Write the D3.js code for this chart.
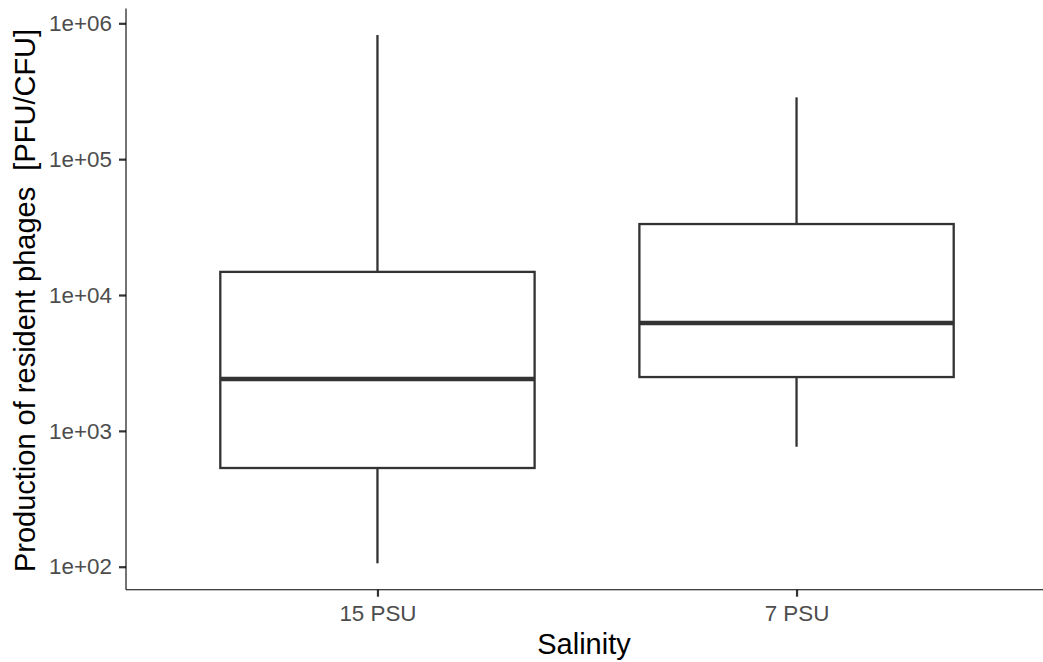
<!DOCTYPE html>
<html>
<head>
<meta charset="utf-8">
<script src="https://cdn.jsdelivr.net/npm/d3@7"></script>
<style>
  html, body { margin: 0; padding: 0; background: #fff; }
  svg { display: block; }
</style>
</head>
<body>
<svg id="chart" width="1043" height="662"></svg>
<script>
// Salinity groups and their box-plot summaries (PFU/CFU)
const categories = ["15 PSU", "7 PSU"];
const whiskerLow = [106, 764];
const lowerQuartile = [533, 2490];
const medianValue = [2410, 6220];
const upperQuartile = [14800, 33300];
const whiskerHigh = [820000, 285000];
const yTickValues = [1e2, 1e3, 1e4, 1e5, 1e6];

const W = 1043, H = 662;
const panel = { left: 126, right: 1048, top: 8.6, bottom: 589.7 };
const font = "'Liberation Sans', Arial, Helvetica, sans-serif";

const svg = d3.select("#chart");

// log scale with 5% padding around the data extent (in log space)
const logLo = Math.log10(d3.min(whiskerLow));
const logHi = Math.log10(d3.max(whiskerHigh));
const pad = (logHi - logLo) * 0.05;
const y = d3.scaleLog()
  .domain([Math.pow(10, logLo - pad), Math.pow(10, logHi + pad)])
  .range([panel.bottom, panel.top]);

const x = d3.scalePoint()
  .domain(categories)
  .range([panel.left, panel.right])
  .padding(0.6);
const boxWidth = x.step() * 0.75;

const rows = categories.map((c, i) => ({
  cat: c,
  lo: whiskerLow[i], q1: lowerQuartile[i], med: medianValue[i],
  q3: upperQuartile[i], hi: whiskerHigh[i]
}));

const boxes = svg.append("g").attr("class", "boxes");
const boxColor = "#333333";

rows.forEach(r => {
  const cx = x(r.cat);
  // whiskers
  boxes.append("line")
    .attr("x1", cx).attr("x2", cx)
    .attr("y1", y(r.q3)).attr("y2", y(r.hi))
    .attr("stroke", boxColor).attr("stroke-width", 2.3);
  boxes.append("line")
    .attr("x1", cx).attr("x2", cx)
    .attr("y1", y(r.q1)).attr("y2", y(r.lo))
    .attr("stroke", boxColor).attr("stroke-width", 2.3);
  // box
  boxes.append("rect")
    .attr("x", cx - boxWidth / 2)
    .attr("y", y(r.q3))
    .attr("width", boxWidth)
    .attr("height", y(r.q1) - y(r.q3))
    .attr("fill", "#ffffff")
    .attr("stroke", boxColor).attr("stroke-width", 2.3);
  // median
  boxes.append("line")
    .attr("x1", cx - boxWidth / 2).attr("x2", cx + boxWidth / 2)
    .attr("y1", y(r.med)).attr("y2", y(r.med))
    .attr("stroke", boxColor).attr("stroke-width", 4.6);
});

// y axis
const fmt = v => "1e+" + String(Math.round(Math.log10(v))).padStart(2, "0");
const yAxis = svg.append("g")
  .attr("transform", `translate(${panel.left},0)`)
  .call(d3.axisLeft(y).tickValues(yTickValues).tickFormat(fmt)
    .tickSizeOuter(0).tickSize(7).tickPadding(7));
yAxis.select(".domain").remove();
yAxis.selectAll(".tick line").attr("stroke", "#333333").attr("stroke-width", 2.2);
yAxis.selectAll(".tick text")
  .attr("fill", "#4D4D4D")
  .style("font-family", font).style("font-size", "22.4px");

// x axis
const xAxis = svg.append("g")
  .attr("transform", `translate(0,${panel.bottom})`)
  .call(d3.axisBottom(x).tickSizeOuter(0).tickSize(7).tickPadding(8));
xAxis.select(".domain").remove();
xAxis.selectAll(".tick line").attr("stroke", "#333333").attr("stroke-width", 2.2);
xAxis.selectAll(".tick text")
  .attr("fill", "#4D4D4D")
  .style("font-family", font).style("font-size", "22.4px");

// axis lines
svg.append("line")
  .attr("x1", panel.left).attr("x2", panel.left)
  .attr("y1", panel.top).attr("y2", panel.bottom)
  .attr("stroke", "#000").attr("stroke-width", 1.1);
svg.append("line")
  .attr("x1", panel.left).attr("x2", panel.right)
  .attr("y1", panel.bottom).attr("y2", panel.bottom)
  .attr("stroke", "#000").attr("stroke-width", 1.1);

// axis titles
svg.append("text")
  .attr("x", 584).attr("y", 654)
  .attr("text-anchor", "middle")
  .style("font-family", font).style("font-size", "29px")
  .attr("fill", "#000")
  .text("Salinity");

svg.append("text")
  .attr("transform", "translate(34.5,300.5) rotate(-90)")
  .attr("text-anchor", "middle")
  .style("font-family", font).style("font-size", "29px")
  .style("white-space", "pre")
  .attr("fill", "#000")
  .text("Production of resident phages  [PFU/CFU]");
</script>
</body>
</html>
